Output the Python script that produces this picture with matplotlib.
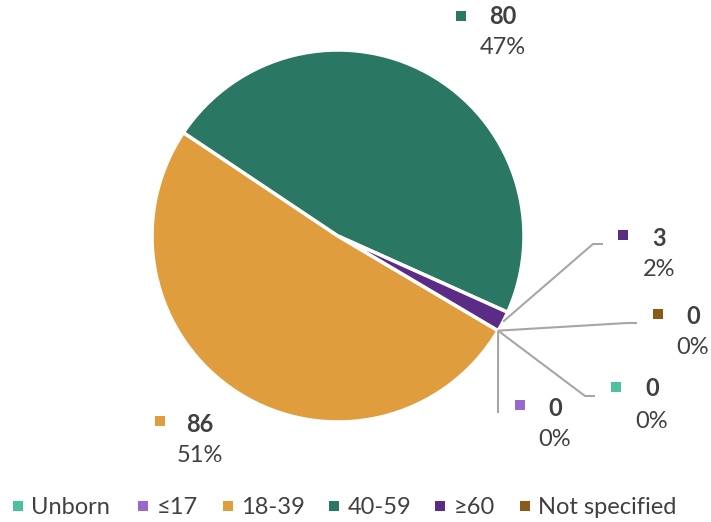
import matplotlib
matplotlib.use('Agg')
import matplotlib.pyplot as plt
import numpy as np
from matplotlib.patches import Rectangle

# ---- data ----
categories = ['Unborn', '≤17', '18-39', '40-59', '≥60', 'Not specified']
values = [0, 0, 86, 80, 3, 0]
colors = ['#4CC1A1', '#9A67CF', '#E09D3D', '#2A7763', '#5B2C86', '#8C5A17']

# ---- layout (pixel coords, origin top-left) ----
W, H = 711, 522
CX, CY, R = 338, 236, 186
START = -30.6
# per category: marker(x,y), value text (x,y), pct y, leader bend points
label_layout = {
    'Unborn':        dict(m=(616, 387), t=(652, 389), p=421, lead=[(585, 396), (595, 396)]),
    '≤17':           dict(m=(520, 405), t=(555, 408), p=439, lead=[(498, 413)]),
    '18-39':         dict(m=(160, 421), t=(200, 424), p=455, lead=None),
    '40-59':         dict(m=(461, 16),  t=(503, 17),  p=48,  lead=None),
    '≥60':           dict(m=(623, 235), t=(659, 238), p=269, lead=[(593, 244), (603, 244)]),
    'Not specified': dict(m=(658, 314), t=(693, 317), p=348, lead=[(627, 323), (637, 323)]),
}
legend_x = [17.5, 143, 228, 334, 440, 525]
LEG_Y = 506

FONT = ['Lato', 'DejaVu Sans']
TXT = '#404040'
FS = 17
plt.rcParams['font.family'] = FONT

fig = plt.figure(figsize=(W / 100, H / 100), dpi=100)
ax = fig.add_axes([0, 0, 1, 1])


def Y(py):
    return H - py


wedges, _ = ax.pie(values, colors=colors, startangle=START, counterclock=False,
                   center=(CX, Y(CY)), radius=R, frame=True,
                   wedgeprops=dict(edgecolor='white', linewidth=2.5))
for w, v in zip(wedges, values):
    if v == 0:
        w.set_linewidth(0)
        w.set_edgecolor('none')

ax.set_xlim(0, W)
ax.set_ylim(0, H)
ax.set_aspect('equal')
ax.axis('off')

total = sum(values)
for w, cat, v, col in zip(wedges, categories, values, colors):
    lay = label_layout[cat]
    mid = np.deg2rad((w.theta1 + w.theta2) / 2)
    ax_x = w.center[0] + R * np.cos(mid)
    ax_y = w.center[1] + R * np.sin(mid)
    if lay['lead']:
        xs = [ax_x] + [p[0] for p in lay['lead']]
        ys = [ax_y] + [Y(p[1]) for p in lay['lead']]
        ax.plot(xs, ys, color='#A6A6A6', lw=1.5, solid_capstyle='butt', zorder=1)
    mx, my = lay['m']
    s = 10
    ax.add_patch(Rectangle((mx - s / 2, Y(my) - s / 2), s, s, color=col, lw=0, zorder=3))
    tx, ty = lay['t']
    ax.text(tx, Y(ty), f'{v}', ha='center', va='center', fontsize=FS,
            fontweight='bold', color=TXT)
    ax.text(tx, Y(lay['p']), f'{round(v / total * 100)}%', ha='center', va='center',
            fontsize=FS, color=TXT)

# legend
for x, cat, col in zip(legend_x, categories, colors):
    s = 10
    ax.add_patch(Rectangle((x - s / 2, Y(LEG_Y) - s / 2), s, s, color=col, lw=0))
    ax.text(x + 13.5, Y(LEG_Y + 2), cat, ha='left', va='center', fontsize=FS, color=TXT)

fig.savefig('out.png', dpi=100)
